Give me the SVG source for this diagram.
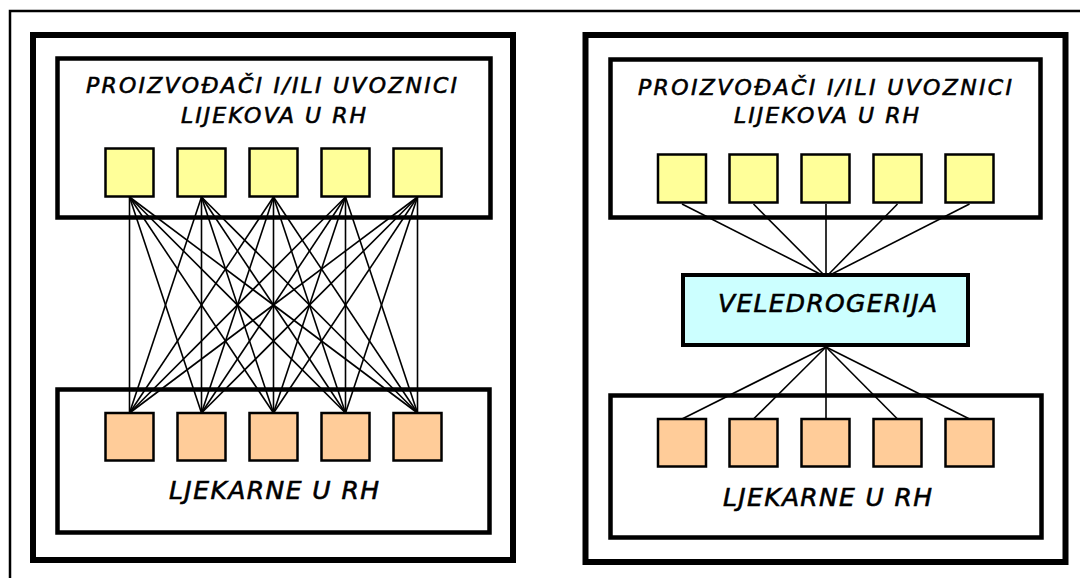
<svg xmlns="http://www.w3.org/2000/svg" width="1080" height="578" viewBox="0 0 1080 578">
<style>
.frame{fill:none;stroke:#000;stroke-width:2.5}
.panel{fill:#fff;stroke:#000;stroke-width:6}
.inner{fill:#fff;stroke:#000;stroke-width:4.5}
.y{fill:#FFFF99;stroke:#000;stroke-width:2.5}
.o{fill:#FFCC99;stroke:#000;stroke-width:2.5}
.hub{fill:#CCFFFF;stroke:#000;stroke-width:4}
.t{font-family:"DejaVu Sans",Verdana,sans-serif;font-style:italic;fill:#000;stroke:#000;stroke-width:0.6;text-anchor:middle}
.s{font-size:22px}
.b{font-size:25px}
.c line{stroke:#000;stroke-width:1.6}
</style>
<rect width="1080" height="578" fill="#fff"/>
<path class="frame" d="M10,578 V11 H1080"/>

<g id="left-panel">
<rect class="panel" x="33" y="35" width="480" height="525"/>
</g>
<g id="right-panel">
<rect class="panel" x="585.5" y="35" width="480" height="527"/>
</g>

<g id="left-producers">
<rect class="inner" x="57.5" y="58.5" width="433" height="159"/>
<text class="t s" x="271.5" y="93" textLength="371" lengthAdjust="spacing">PROIZVOĐAČI I/ILI UVOZNICI</text>
<text class="t s" x="273.5" y="122.5" textLength="185" lengthAdjust="spacing">LIJEKOVA U RH</text>
</g>
<g id="left-pharmacies">
<rect class="inner" x="57.5" y="389.5" width="432" height="143"/>
<text class="t b" x="274" y="499" textLength="210" lengthAdjust="spacing">LJEKARNE U RH</text>
</g>

<g id="right-producers">
<rect class="inner" x="610.5" y="59.5" width="430" height="158"/>
<text class="t s" x="825" y="95" textLength="374" lengthAdjust="spacing">PROIZVOĐAČI I/ILI UVOZNICI</text>
<text class="t s" x="826.5" y="123" textLength="185" lengthAdjust="spacing">LIJEKOVA U RH</text>
</g>
<g id="right-pharmacies">
<rect class="inner" x="610.5" y="395.5" width="431" height="142"/>
<text class="t b" x="827.5" y="506" textLength="209" lengthAdjust="spacing">LJEKARNE U RH</text>
</g>

<g class="c" id="connectors">
<line x1="129.5" y1="197" x2="129.5" y2="413"/><line x1="129.5" y1="197" x2="201.5" y2="413"/><line x1="129.5" y1="197" x2="273.5" y2="413"/><line x1="129.5" y1="197" x2="345.5" y2="413"/><line x1="129.5" y1="197" x2="417.5" y2="413"/>
<line x1="201.5" y1="197" x2="129.5" y2="413"/><line x1="201.5" y1="197" x2="201.5" y2="413"/><line x1="201.5" y1="197" x2="273.5" y2="413"/><line x1="201.5" y1="197" x2="345.5" y2="413"/><line x1="201.5" y1="197" x2="417.5" y2="413"/>
<line x1="273.5" y1="197" x2="129.5" y2="413"/><line x1="273.5" y1="197" x2="201.5" y2="413"/><line x1="273.5" y1="197" x2="273.5" y2="413"/><line x1="273.5" y1="197" x2="345.5" y2="413"/><line x1="273.5" y1="197" x2="417.5" y2="413"/>
<line x1="345.5" y1="197" x2="129.5" y2="413"/><line x1="345.5" y1="197" x2="201.5" y2="413"/><line x1="345.5" y1="197" x2="273.5" y2="413"/><line x1="345.5" y1="197" x2="345.5" y2="413"/><line x1="345.5" y1="197" x2="417.5" y2="413"/>
<line x1="417.5" y1="197" x2="129.5" y2="413"/><line x1="417.5" y1="197" x2="201.5" y2="413"/><line x1="417.5" y1="197" x2="273.5" y2="413"/><line x1="417.5" y1="197" x2="345.5" y2="413"/><line x1="417.5" y1="197" x2="417.5" y2="413"/>
<line x1="682" y1="204" x2="826" y2="277"/><line x1="753.5" y1="204" x2="826" y2="277"/><line x1="826" y1="204" x2="826" y2="277"/><line x1="897.5" y1="204" x2="826" y2="277"/><line x1="969.5" y1="204" x2="826" y2="277"/>
<line x1="826" y1="347" x2="682" y2="419"/><line x1="826" y1="347" x2="753.5" y2="419"/><line x1="826" y1="347" x2="826" y2="419"/><line x1="826" y1="347" x2="897.5" y2="419"/><line x1="826" y1="347" x2="969.5" y2="419"/>
</g>

<g id="left-top-nodes">
<rect class="y" x="105.5" y="148.5" width="48" height="48"/>
<rect class="y" x="177.5" y="148.5" width="48" height="48"/>
<rect class="y" x="249.5" y="148.5" width="48" height="48"/>
<rect class="y" x="321.5" y="148.5" width="48" height="48"/>
<rect class="y" x="393.5" y="148.5" width="48" height="48"/>
</g>
<g id="left-bottom-nodes">
<rect class="o" x="105.5" y="413" width="48" height="47.5"/>
<rect class="o" x="177.5" y="413" width="48" height="47.5"/>
<rect class="o" x="249.5" y="413" width="48" height="47.5"/>
<rect class="o" x="321.5" y="413" width="48" height="47.5"/>
<rect class="o" x="393.5" y="413" width="48" height="47.5"/>
</g>
<g id="right-top-nodes">
<rect class="y" x="658" y="154.5" width="48" height="48"/>
<rect class="y" x="729.5" y="154.5" width="48" height="48"/>
<rect class="y" x="801.5" y="154.5" width="48" height="48"/>
<rect class="y" x="873.5" y="154.5" width="48" height="48"/>
<rect class="y" x="945.5" y="154.5" width="48" height="48"/>
</g>
<g id="veledrogerija">
<rect class="hub" x="683" y="275" width="285" height="70"/>
<text class="t b" x="827.5" y="312" textLength="219" lengthAdjust="spacing">VELEDROGERIJA</text>
</g>
<g id="right-bottom-nodes">
<rect class="o" x="658" y="419" width="48" height="47.5"/>
<rect class="o" x="729.5" y="419" width="48" height="47.5"/>
<rect class="o" x="801.5" y="419" width="48" height="47.5"/>
<rect class="o" x="873.5" y="419" width="48" height="47.5"/>
<rect class="o" x="945.5" y="419" width="48" height="47.5"/>
</g>
</svg>
